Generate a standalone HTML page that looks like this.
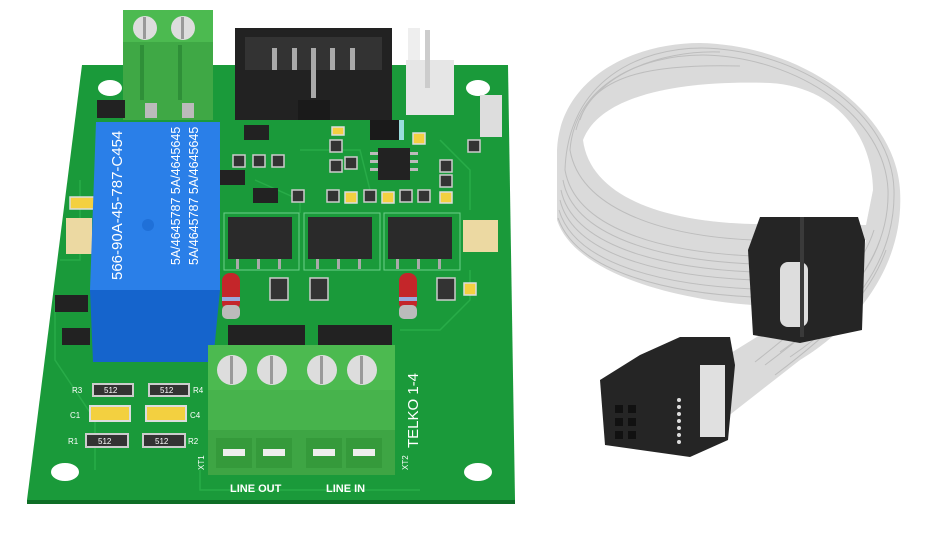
<!DOCTYPE html>
<html><head><meta charset="utf-8"><style>
html,body{margin:0;padding:0;background:#fff;width:938px;height:535px;overflow:hidden}
svg{display:block}
text{font-family:"Liberation Sans",sans-serif}
</style></head><body>
<svg width="938" height="535" viewBox="0 0 938 535" xmlns="http://www.w3.org/2000/svg">
<polygon points="82,65 508,65 515,500 27,500" fill="#1a9a3a"/>
<polygon points="27,500 515,500 515,504 27,504" fill="#0e6e26"/>
<g fill="none" stroke="#2cb04c" stroke-width="1.5" opacity="0.8">
<path d="M55,300 L55,360 L95,420 L95,470"/><path d="M60,260 L80,260 L80,180"/>
<path d="M400,330 L440,330 L470,300 L470,270"/><path d="M300,150 L360,150 L370,190"/>
<path d="M440,140 L470,170 L470,210"/><path d="M200,470 L200,490 L420,490"/>
<path d="M255,180 L300,200 L300,213"/>
</g>
<g fill="#fff"><ellipse cx="110" cy="88" rx="12" ry="8"/><ellipse cx="478" cy="88" rx="12" ry="8"/>
<ellipse cx="65" cy="472" rx="14" ry="9"/><ellipse cx="478" cy="472" rx="14" ry="9"/></g>
<rect x="480" y="95" width="22" height="42" fill="#ddd"/>
<rect x="123" y="10" width="90" height="110" fill="#4cba50"/>
<rect x="123" y="42" width="90" height="78" fill="#3fa845"/>
<rect x="140" y="45" width="4" height="55" fill="#2f8f38"/><rect x="178" y="45" width="4" height="55" fill="#2f8f38"/>
<circle cx="145" cy="28" r="12" fill="#ddd"/><circle cx="183" cy="28" r="12" fill="#ddd"/>
<rect x="143" y="17" width="3" height="22" fill="#999"/><rect x="181" y="17" width="3" height="22" fill="#999"/>
<rect x="145" y="103" width="12" height="15" fill="#bbb"/><rect x="182" y="103" width="12" height="15" fill="#bbb"/>
<rect x="235" y="28" width="157" height="92" fill="#222"/>
<rect x="245" y="37" width="137" height="33" fill="#333"/>
<g fill="#aaa"><rect x="272" y="48" width="5" height="22"/><rect x="292" y="48" width="5" height="22"/><rect x="311" y="48" width="5" height="50"/><rect x="330" y="48" width="5" height="22"/><rect x="350" y="48" width="5" height="22"/></g>
<rect x="298" y="100" width="32" height="20" fill="#1a1a1a"/>
<rect x="408" y="28" width="12" height="60" fill="#eee"/><rect x="406" y="60" width="48" height="55" fill="#e6e6e6"/>
<rect x="425" y="30" width="5" height="58" fill="#ccc"/>
<rect x="97" y="100" width="28" height="18" fill="#222"/>
<rect x="370" y="120" width="32" height="20" fill="#1a1a1a"/><rect x="399" y="120" width="5" height="20" fill="#9dd"/>
<rect x="378" y="148" width="32" height="32" fill="#222"/>
<g fill="#bbb"><rect x="370" y="152" width="8" height="3"/><rect x="370" y="160" width="8" height="3"/><rect x="370" y="168" width="8" height="3"/><rect x="410" y="152" width="8" height="3"/><rect x="410" y="160" width="8" height="3"/><rect x="410" y="168" width="8" height="3"/></g>
<rect x="244" y="125" width="25" height="15" fill="#222"/><rect x="253" y="188" width="25" height="15" fill="#222"/><rect x="220" y="170" width="25" height="15" fill="#222"/>
<g fill="#333" stroke="#ccc" stroke-width="1.5">
<rect x="253" y="155" width="12" height="12"/><rect x="272" y="155" width="12" height="12"/><rect x="330" y="140" width="12" height="12"/><rect x="345" y="157" width="12" height="12"/><rect x="330" y="160" width="12" height="12"/>
<rect x="327" y="190" width="12" height="12"/><rect x="364" y="190" width="12" height="12"/><rect x="400" y="190" width="12" height="12"/><rect x="418" y="190" width="12" height="12"/><rect x="440" y="160" width="12" height="12"/><rect x="440" y="175" width="12" height="12"/><rect x="292" y="190" width="12" height="12"/><rect x="468" y="140" width="12" height="12"/><rect x="233" y="155" width="12" height="12"/>
</g>
<g fill="#f3d040" stroke="#ddd" stroke-width="1.5"><rect x="345" y="192" width="12" height="11"/><rect x="382" y="192" width="12" height="11"/><rect x="440" y="192" width="12" height="11"/><rect x="413" y="133" width="12" height="11"/><rect x="332" y="127" width="12" height="8"/><rect x="70" y="197" width="25" height="12"/><rect x="464" y="283" width="12" height="12"/></g>
<g fill="none" stroke="#6cd08a" stroke-width="1"><rect x="224" y="213" width="75" height="57"/><rect x="304" y="213" width="76" height="57"/><rect x="384" y="213" width="76" height="57"/></g>
<g fill="#2a2a2a"><rect x="228" y="217" width="64" height="42"/><rect x="308" y="217" width="64" height="42"/><rect x="388" y="217" width="64" height="42"/></g>
<g fill="#aaa"><rect x="236" y="259" width="3" height="10"/><rect x="257" y="259" width="3" height="10"/><rect x="278" y="259" width="3" height="10"/><rect x="316" y="259" width="3" height="10"/><rect x="337" y="259" width="3" height="10"/><rect x="358" y="259" width="3" height="10"/><rect x="396" y="259" width="3" height="10"/><rect x="417" y="259" width="3" height="10"/><rect x="438" y="259" width="3" height="10"/></g>
<rect x="66" y="218" width="26" height="36" fill="#ecd9a2"/><rect x="463" y="220" width="35" height="32" fill="#ecd9a2"/>
<rect x="222" y="273" width="18" height="38" rx="8" fill="#c4262a"/><rect x="222" y="297" width="18" height="4" fill="#9ad"/><rect x="222" y="305" width="18" height="14" rx="5" fill="#bbb"/>
<rect x="399" y="273" width="18" height="38" rx="8" fill="#c4262a"/><rect x="399" y="297" width="18" height="4" fill="#9ad"/><rect x="399" y="305" width="18" height="14" rx="5" fill="#bbb"/>
<g fill="#333" stroke="#ccc" stroke-width="1.5"><rect x="270" y="278" width="18" height="22"/><rect x="310" y="278" width="18" height="22"/><rect x="437" y="278" width="18" height="22"/></g>
<rect x="55" y="295" width="33" height="17" fill="#222"/><rect x="62" y="328" width="28" height="17" fill="#222"/>
<polygon points="96,122 220,122 220,290 90,290" fill="#2a7fe8"/>
<polygon points="90,290 220,290 213,362 93,362" fill="#1564cc"/>
<circle cx="148" cy="225" r="6" fill="#1f70d8"/>
<text transform="translate(122,280) rotate(-90)" font-size="15" fill="#fff">566-90A-45-787-C454</text>
<text transform="translate(180,265) rotate(-90)" font-size="12.5" fill="#fff">5A/4645787   5A/4645645</text>
<text transform="translate(198,265) rotate(-90)" font-size="12.5" fill="#fff">5A/4645787   5A/4645645</text>
<rect x="228" y="325" width="77" height="22" fill="#222"/><rect x="318" y="325" width="74" height="22" fill="#222"/>
<rect x="208" y="345" width="187" height="130" fill="#4cba50"/>
<rect x="208" y="390" width="187" height="40" fill="#47b34c"/>
<rect x="208" y="430" width="187" height="45" fill="#3ea544"/>
<g fill="#ddd"><circle cx="232" cy="370" r="15"/><circle cx="272" cy="370" r="15"/><circle cx="322" cy="370" r="15"/><circle cx="362" cy="370" r="15"/></g>
<g fill="#999"><rect x="230" y="356" width="3" height="28"/><rect x="270" y="356" width="3" height="28"/><rect x="320" y="356" width="3" height="28"/><rect x="360" y="356" width="3" height="28"/></g>
<g fill="#359a3b"><rect x="216" y="438" width="36" height="30"/><rect x="256" y="438" width="36" height="30"/><rect x="306" y="438" width="36" height="30"/><rect x="346" y="438" width="36" height="30"/></g>
<g fill="#eee"><rect x="223" y="449" width="22" height="7"/><rect x="263" y="449" width="22" height="7"/><rect x="313" y="449" width="22" height="7"/><rect x="353" y="449" width="22" height="7"/></g>
<g fill="#333" stroke="#ccc" stroke-width="2"><rect x="93" y="384" width="40" height="12"/><rect x="149" y="384" width="40" height="12"/><rect x="86" y="434" width="42" height="13"/><rect x="143" y="434" width="42" height="13"/></g>
<g fill="#f3d040" stroke="#ddd" stroke-width="2"><rect x="90" y="406" width="40" height="15"/><rect x="146" y="406" width="40" height="15"/></g>
<g font-size="8" fill="#fff"><text x="104" y="393">512</text><text x="160" y="393">512</text><text x="98" y="444">512</text><text x="155" y="444">512</text>
<text x="72" y="393">R3</text><text x="193" y="393">R4</text><text x="70" y="418">C1</text><text x="190" y="418">C4</text><text x="68" y="444">R1</text><text x="188" y="444">R2</text></g>
<text x="230" y="492" font-size="11" font-weight="bold" fill="#fff">LINE OUT</text>
<text x="326" y="492" font-size="11" font-weight="bold" fill="#fff">LINE IN</text>
<text transform="translate(418,448) rotate(-90)" font-size="15" fill="#fff">TELKO 1-4</text>
<text transform="translate(204,470) rotate(-90)" font-size="8" fill="#fff">XT1</text>
<text transform="translate(408,470) rotate(-90)" font-size="8" fill="#fff">XT2</text>

<!-- ribbon cable -->
<path d="M753,305 C680,300 575,275 557,220 L557,150 C560,80 630,43 700,43 C800,45 895,110 900,190 C905,270 850,330 800,360 L727,417 L700,372 L760,335 C820,300 862,262 866,240 L753,240 Z" fill="#dadada"/>
<path d="M583,140 C600,95 680,80 770,83 C830,86 872,130 873,190 L866,225 L753,224 C660,222 590,195 583,140 Z" fill="#fff"/>
<g fill="none" stroke="#bdbdbd" stroke-width="1">
<path d="M753,240 C660,236 580,208 570,150 C575,85 640,55 703,55 C800,57 885,118 888,190 C890,260 840,310 780,352"/>
<path d="M753,256 C660,252 575,228 565,170 C568,80 640,48 702,48 C800,50 892,113 894,190 C896,265 845,320 790,357"/>
<path d="M753,264 C660,260 573,236 563,180"/>
<path d="M753,272 C660,268 572,245 561,190"/><path d="M753,280 C662,276 573,255 560,200"/><path d="M753,289 C665,285 575,265 559,210"/><path d="M753,297 C668,293 577,272 558,218"/>
<path d="M880,240 C865,285 825,320 765,365"/><path d="M874,230 C860,275 815,315 755,362"/><path d="M886,250 C870,295 835,330 775,375"/>
<path d="M576,130 C590,75 660,50 720,52"/><path d="M580,120 C595,72 660,64 740,66"/>
</g>
<polygon points="760,217 858,217 865,240 862,330 800,343 753,335 748,250" fill="#252525"/>
<rect x="780" y="262" width="28" height="65" rx="8" fill="#ddd"/>
<rect x="800" y="217" width="4" height="120" fill="#3a3a3a"/>
<polygon points="680,337 730,337 735,365 728,440 690,457 605,445 600,380 640,355" fill="#252525"/>
<rect x="700" y="365" width="25" height="72" fill="#e0e0e0"/>
<g fill="#ddd"><circle cx="679" cy="400" r="2"/><circle cx="679" cy="407" r="2"/><circle cx="679" cy="414" r="2"/><circle cx="679" cy="421" r="2"/><circle cx="679" cy="428" r="2"/><circle cx="679" cy="435" r="2"/><circle cx="679" cy="442" r="2"/></g>
<g fill="#111"><rect x="615" y="405" width="8" height="8"/><rect x="628" y="405" width="8" height="8"/><rect x="615" y="418" width="8" height="8"/><rect x="628" y="418" width="8" height="8"/><rect x="615" y="431" width="8" height="8"/><rect x="628" y="431" width="8" height="8"/></g>
</svg>
</body></html>
